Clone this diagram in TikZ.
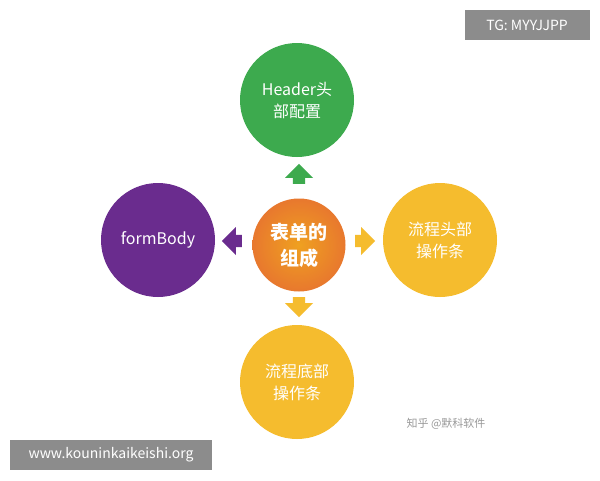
\documentclass[tikz,border=0pt]{standalone}
\usepackage{fontspec}
\setmainfont{Noto Sans CJK SC}
\usetikzlibrary{shapes.arrows}
\definecolor{cgreen}{HTML}{3DAA4E}
\definecolor{cyellow}{HTML}{F5BC2E}
\definecolor{cpurple}{HTML}{6A2C8E}
\definecolor{corange}{HTML}{E8782E}
\begin{document}
\begin{tikzpicture}[x=1pt,y=-1pt,
  big/.style={circle,minimum size=114pt,inner sep=0pt,text=white,font=\fontsize{16}{22}\selectfont,align=center},
  arr/.style={single arrow,minimum width=28pt,single arrow head extend=4pt,single arrow head indent=0pt,minimum height=20pt,inner sep=3pt}]
\useasboundingbox (0,0) rectangle (600,480);
\fill[white] (0,0) rectangle (600,480);
\node[circle,minimum size=93pt,inner sep=0pt,inner color=corange!70!yellow,outer color=corange,text=white,font=\bfseries\fontsize{19}{26}\selectfont,align=center] (c) at (299,245) {表单的\\组成};
\node[big,fill=cgreen] (t) at (297,100) {Header头\\部配置};
\node[big,fill=cyellow] (r) at (440,240) {流程头部\\操作条};
\node[big,fill=cyellow] (b) at (297,382) {流程底部\\操作条};
\node[big,fill=cpurple] (l) at (158,240) {formBody};
\node[arr,fill=cgreen,shape border rotate=90] (at) at (299,177) {};
\node[arr,fill=cyellow,shape border rotate=0] (ar) at (362,241) {};
\node[arr,fill=cyellow,shape border rotate=270] (ab) at (299,304) {};
\node[arr,fill=cpurple,shape border rotate=180] (al) at (235,241) {};
\node[fill=black!45,text=white,minimum width=125pt,minimum height=30pt,font=\fontsize{14}{16}\selectfont] (tg) at (527,25) {TG: MYYJJPP};
\node[fill=black!45,text=white,minimum width=202pt,minimum height=30pt,font=\fontsize{14}{16}\selectfont] (www) at (111,455) {www.kouninkaikeishi.org};
\node[text=black!40,font=\fontsize{11}{13}\selectfont] (zh) at (446,424) {知乎 @默科软件};
\end{tikzpicture}
\end{document}
